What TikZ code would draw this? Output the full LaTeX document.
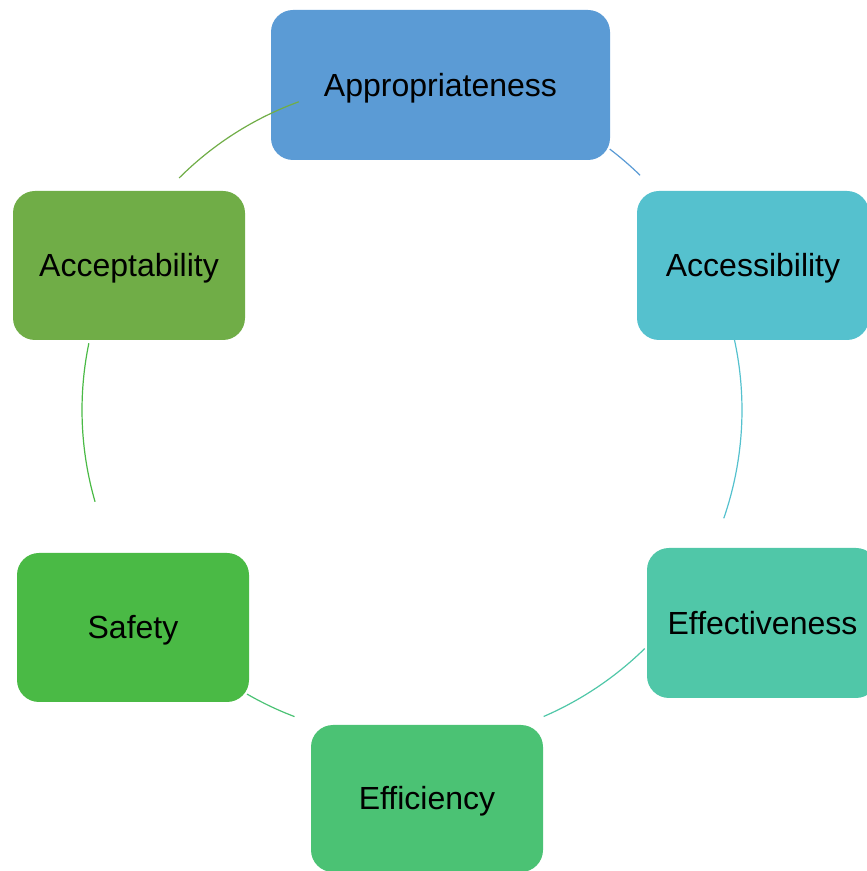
\documentclass[tikz,border=0pt]{standalone}
\usepackage{fontspec}
\setmainfont{Liberation Sans}
\definecolor{cAppr}{HTML}{5B9BD5}
\definecolor{cAcce}{HTML}{55C1CE}
\definecolor{cEffe}{HTML}{50C7A8}
\definecolor{cEffi}{HTML}{4BC274}
\definecolor{cSafe}{HTML}{4ABA45}
\definecolor{cAcpt}{HTML}{70AD47}
\begin{document}
\begin{tikzpicture}[x=1pt,y=1pt,
  box/.style={rounded corners=22pt, inner sep=0pt, text=black,
    font=\fontsize{32}{38}\selectfont, text height=23pt, text depth=0pt},
  link/.style={line width=1.2pt}]
\useasboundingbox (0,0) rectangle (867,871);
\clip (0,0) rectangle (867,871);
\node[box, fill=cAppr, minimum width=339pt, minimum height=150pt] (appr) at (440.5,786) {Appropriateness};
\node[box, fill=cAcce, minimum width=232pt, minimum height=149pt] (acce) at (753,605.5) {Accessibility};
\node[box, fill=cEffe, minimum width=231pt, minimum height=150pt] (effe) at (762.5,248) {Effectiveness};
\node[box, fill=cEffi, minimum width=232pt, minimum height=147pt] (effi) at (427,72.5) {Efficiency};
\node[box, fill=cSafe, minimum width=232pt, minimum height=149pt] (safe) at (133,243.5) {Safety};
\node[box, fill=cAcpt, minimum width=232pt, minimum height=149pt] (acpt) at (129,605.5) {Acceptability};
\coordinate (c) at (411,461);
\draw[link, cAppr] (c) ++(52.7:328) arc[start angle=52.7, end angle=45.7, radius=328];
\draw[link, cAcce] (c) ++(12.4:331) arc[start angle=12.4, end angle=-19.1, radius=331];
\draw[link, cEffe] (c) ++(-45.6:334) arc[start angle=-45.6, end angle=-66.6, radius=334];
\draw[link, cEffi] (c) ++(-110.8:328) arc[start angle=-110.8, end angle=-120, radius=328];
\draw[link, cSafe] (c) ++(196.2:329) arc[start angle=196.2, end angle=168.3, radius=329];
\draw[link, cAcpt] (c) ++(135:328) arc[start angle=135, end angle=110, radius=328];
\end{tikzpicture}
\end{document}
